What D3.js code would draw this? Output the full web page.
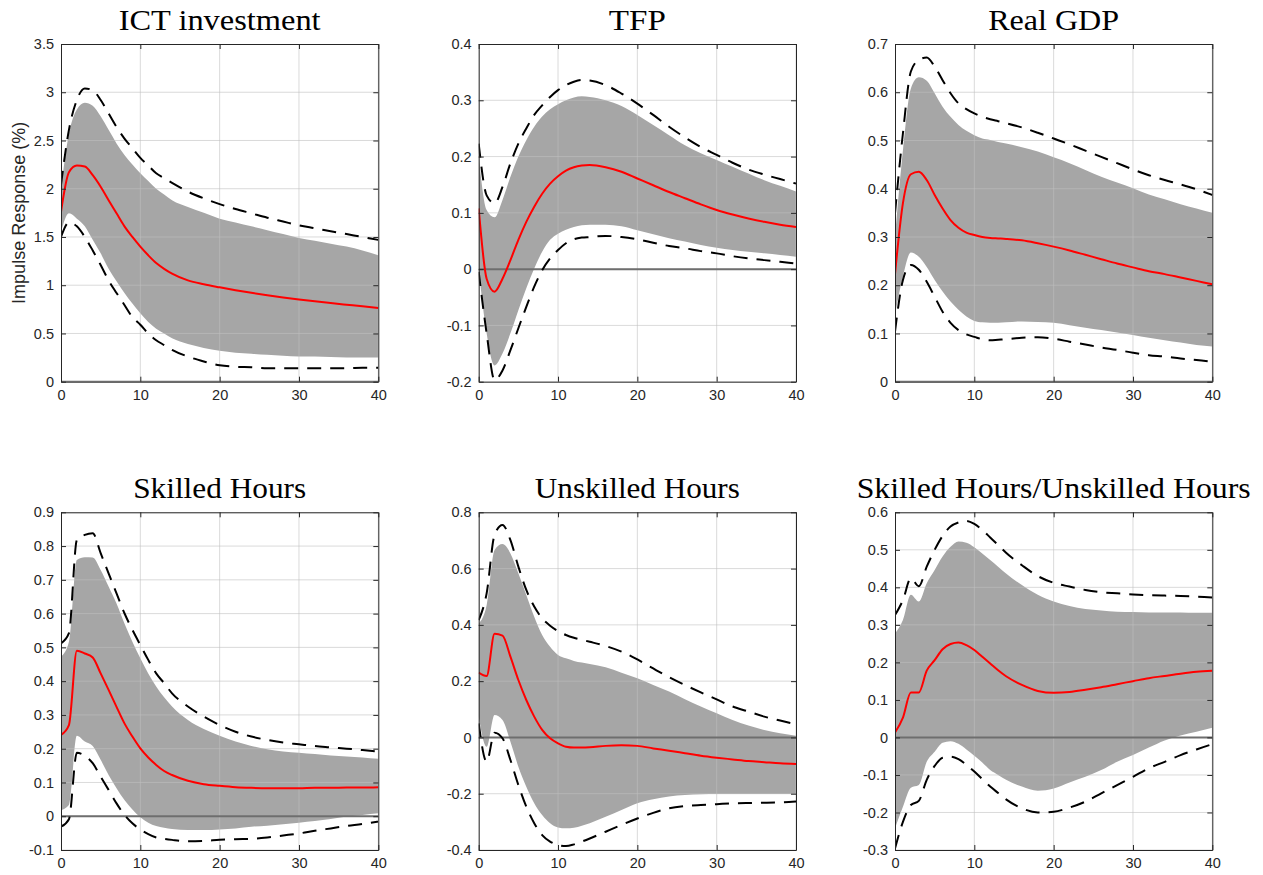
<!DOCTYPE html>
<html><head><meta charset="utf-8">
<script src="https://cdn.jsdelivr.net/npm/d3@7/dist/d3.min.js"></script>
<style>body{margin:0;background:#fff}</style>
</head><body><div id="chart"></div>
<script>
// ---------- DATA ----------
const horizons = [0,1,2,3,4,5,6,7,8,9,10,11,12,13,14,16,18,20,22,24,26,28,30,32,34,36,38,40];
const titles = ["ICT investment","TFP","Real GDP","Skilled Hours","Unskilled Hours","Skilled Hours/Unskilled Hours"];
const xTicks = [0,10,20,30,40];
const yDomains = [[0,3.5],[-0.2,0.4],[0,0.7],[-0.1,0.9],[-0.4,0.8],[-0.3,0.6]];
const yTickSteps = [0.5,0.1,0.1,0.1,0.2,0.1];

const ictMedian = [1.76,2.17,2.24,2.23,2.14,2.02,1.88,1.745,1.61,1.50,1.40,1.31,1.23,1.17,1.12,1.05,1.01,0.978,0.948,0.921,0.896,0.873,0.852,0.833,0.815,0.798,0.781,0.765];
const ictBandHi = [2.0,2.57,2.82,2.89,2.86,2.75,2.61,2.47,2.35,2.25,2.16,2.08,2.00,1.94,1.88,1.81,1.75,1.69,1.65,1.61,1.57,1.53,1.49,1.46,1.43,1.40,1.36,1.31];
const ictBandLo = [1.55,1.745,1.69,1.61,1.47,1.33,1.17,1.04,0.92,0.81,0.71,0.62,0.55,0.50,0.45,0.39,0.35,0.32,0.30,0.29,0.28,0.27,0.26,0.26,0.255,0.25,0.25,0.25];
const ictDashHi = [2.04,2.61,2.92,3.04,3.02,2.92,2.78,2.64,2.52,2.42,2.32,2.24,2.16,2.11,2.06,1.97,1.90,1.84,1.79,1.745,1.70,1.66,1.62,1.59,1.56,1.53,1.50,1.47];
const ictDashLo = [1.50,1.65,1.61,1.50,1.36,1.21,1.05,0.92,0.795,0.67,0.59,0.50,0.43,0.38,0.33,0.26,0.21,0.17,0.155,0.15,0.14,0.14,0.14,0.14,0.14,0.14,0.145,0.145];

const tfpMedian = [0.108,-0.017,-0.040,-0.017,0.016,0.052,0.084,0.111,0.134,0.152,0.165,0.175,0.181,0.184,0.185,0.181,0.173,0.161,0.149,0.137,0.126,0.115,0.105,0.097,0.090,0.084,0.079,0.075];
const tfpBandHi = [0.20,0.105,0.092,0.123,0.164,0.20,0.229,0.253,0.271,0.284,0.293,0.30,0.305,0.307,0.306,0.30,0.29,0.274,0.256,0.238,0.22,0.206,0.194,0.182,0.17,0.158,0.148,0.138];
const tfpBandLo = [0.0,-0.114,-0.171,-0.150,-0.114,-0.073,-0.034,0.001,0.031,0.052,0.063,0.070,0.075,0.078,0.079,0.079,0.076,0.069,0.062,0.055,0.049,0.043,0.038,0.034,0.031,0.028,0.025,0.022];
const tfpDashHi = [0.223,0.131,0.117,0.146,0.188,0.223,0.25,0.274,0.291,0.306,0.318,0.327,0.333,0.336,0.335,0.327,0.312,0.294,0.274,0.253,0.234,0.217,0.203,0.189,0.177,0.168,0.16,0.152];
const tfpDashLo = [-0.005,-0.114,-0.197,-0.18,-0.144,-0.105,-0.067,-0.031,-0.002,0.019,0.034,0.046,0.053,0.056,0.057,0.059,0.057,0.053,0.047,0.041,0.037,0.032,0.028,0.023,0.019,0.016,0.013,0.010];

const gdpMedian = [0.223,0.37,0.43,0.435,0.418,0.387,0.359,0.335,0.319,0.309,0.304,0.30,0.298,0.297,0.296,0.293,0.287,0.28,0.272,0.263,0.254,0.245,0.237,0.229,0.223,0.216,0.209,0.202];
const gdpBandHi = [0.30,0.48,0.608,0.631,0.624,0.598,0.57,0.549,0.532,0.52,0.511,0.504,0.501,0.497,0.494,0.486,0.477,0.465,0.453,0.439,0.425,0.413,0.401,0.388,0.378,0.368,0.359,0.35];
const gdpBandLo = [0.138,0.218,0.268,0.259,0.238,0.211,0.187,0.166,0.149,0.135,0.126,0.123,0.122,0.122,0.123,0.125,0.124,0.122,0.117,0.112,0.107,0.102,0.097,0.091,0.086,0.081,0.076,0.073];
const gdpDashHi = [0.349,0.515,0.643,0.667,0.672,0.653,0.625,0.598,0.577,0.565,0.556,0.549,0.544,0.540,0.536,0.527,0.516,0.504,0.492,0.479,0.466,0.453,0.44,0.428,0.418,0.409,0.399,0.387];
const gdpDashLo = [0.104,0.211,0.242,0.232,0.207,0.176,0.145,0.122,0.107,0.098,0.093,0.088,0.086,0.087,0.088,0.091,0.092,0.089,0.083,0.077,0.071,0.066,0.060,0.055,0.052,0.048,0.045,0.041];

const skMedian = [0.241,0.27,0.49,0.482,0.47,0.423,0.374,0.324,0.275,0.236,0.201,0.174,0.152,0.134,0.122,0.105,0.095,0.09,0.086,0.084,0.083,0.083,0.083,0.084,0.084,0.085,0.085,0.086];
const skBandHi = [0.473,0.517,0.759,0.767,0.766,0.729,0.68,0.63,0.571,0.517,0.468,0.423,0.384,0.352,0.325,0.285,0.258,0.238,0.221,0.208,0.198,0.192,0.188,0.184,0.18,0.177,0.174,0.17];
const skBandLo = [0.018,0.033,0.238,0.221,0.208,0.167,0.122,0.083,0.048,0.02,-0.003,-0.019,-0.029,-0.034,-0.038,-0.041,-0.041,-0.039,-0.036,-0.031,-0.028,-0.024,-0.019,-0.014,-0.008,-0.001,0.004,0.009];
const skDashHi = [0.512,0.542,0.818,0.833,0.838,0.779,0.719,0.66,0.601,0.552,0.507,0.463,0.423,0.394,0.364,0.325,0.295,0.27,0.25,0.236,0.226,0.218,0.213,0.208,0.204,0.2,0.196,0.191];
const skDashLo = [-0.031,-0.009,0.188,0.179,0.157,0.117,0.078,0.038,0.004,-0.021,-0.039,-0.053,-0.063,-0.067,-0.07,-0.074,-0.073,-0.07,-0.068,-0.067,-0.063,-0.057,-0.051,-0.043,-0.036,-0.029,-0.023,-0.016];

const unMedian = [0.23,0.218,0.368,0.362,0.287,0.204,0.133,0.074,0.027,-0.003,-0.021,-0.033,-0.036,-0.036,-0.035,-0.030,-0.028,-0.030,-0.039,-0.047,-0.056,-0.065,-0.072,-0.078,-0.084,-0.088,-0.092,-0.094];
const unBandHi = [0.405,0.47,0.666,0.687,0.654,0.583,0.506,0.429,0.364,0.322,0.293,0.281,0.272,0.266,0.261,0.249,0.23,0.21,0.186,0.163,0.136,0.11,0.086,0.062,0.042,0.026,0.015,0.006];
const unBandLo = [0.074,-0.033,0.08,0.062,-0.015,-0.104,-0.175,-0.234,-0.276,-0.305,-0.32,-0.323,-0.321,-0.314,-0.305,-0.282,-0.258,-0.234,-0.22,-0.21,-0.205,-0.202,-0.201,-0.201,-0.201,-0.201,-0.201,-0.201];
const unDashHi = [0.417,0.512,0.72,0.755,0.701,0.607,0.524,0.465,0.423,0.397,0.378,0.364,0.354,0.347,0.34,0.325,0.305,0.277,0.245,0.214,0.186,0.16,0.135,0.11,0.092,0.074,0.06,0.047];
const unDashLo = [0.05,-0.086,0.017,-0.003,-0.08,-0.169,-0.246,-0.305,-0.347,-0.37,-0.382,-0.386,-0.38,-0.37,-0.359,-0.335,-0.311,-0.288,-0.268,-0.252,-0.244,-0.24,-0.237,-0.234,-0.233,-0.232,-0.231,-0.228];

const ratioMedian = [0.013,0.053,0.12,0.12,0.178,0.206,0.235,0.249,0.253,0.246,0.233,0.215,0.197,0.179,0.163,0.14,0.124,0.119,0.121,0.127,0.134,0.142,0.150,0.158,0.164,0.170,0.175,0.178];
const ratioBandHi = [0.277,0.313,0.38,0.362,0.411,0.446,0.482,0.508,0.522,0.519,0.507,0.49,0.473,0.455,0.437,0.406,0.38,0.362,0.35,0.342,0.338,0.335,0.334,0.333,0.333,0.333,0.332,0.332];
const ratioBandLo = [-0.242,-0.185,-0.134,-0.127,-0.065,-0.038,-0.014,-0.01,-0.017,-0.032,-0.049,-0.067,-0.087,-0.1,-0.113,-0.131,-0.142,-0.136,-0.12,-0.105,-0.087,-0.065,-0.047,-0.027,-0.008,0.005,0.015,0.026];
const ratioDashHi = [0.326,0.366,0.424,0.403,0.455,0.5,0.537,0.562,0.573,0.577,0.569,0.553,0.533,0.513,0.492,0.459,0.43,0.412,0.402,0.393,0.387,0.384,0.381,0.379,0.378,0.377,0.375,0.373];
const ratioDashLo = [-0.296,-0.225,-0.18,-0.169,-0.113,-0.076,-0.054,-0.051,-0.058,-0.073,-0.091,-0.111,-0.131,-0.148,-0.165,-0.189,-0.2,-0.198,-0.187,-0.171,-0.149,-0.127,-0.105,-0.082,-0.065,-0.047,-0.032,-0.018];

const panels = [
  {median: ictMedian, bandHi: ictBandHi, bandLo: ictBandLo, dashHi: ictDashHi, dashLo: ictDashLo},
  {median: tfpMedian, bandHi: tfpBandHi, bandLo: tfpBandLo, dashHi: tfpDashHi, dashLo: tfpDashLo},
  {median: gdpMedian, bandHi: gdpBandHi, bandLo: gdpBandLo, dashHi: gdpDashHi, dashLo: gdpDashLo},
  {median: skMedian, bandHi: skBandHi, bandLo: skBandLo, dashHi: skDashHi, dashLo: skDashLo},
  {median: unMedian, bandHi: unBandHi, bandLo: unBandLo, dashHi: unDashHi, dashLo: unDashLo},
  {median: ratioMedian, bandHi: ratioBandHi, bandLo: ratioBandLo, dashHi: ratioDashHi, dashLo: ratioDashLo}
];

// ---------- LAYOUT ----------
const W = 1263, H = 875;
const colX = [61, 478.7, 895];
const rowY = [44, 512.3];
const pw = 317.3, ph = 337.7;
const titleWidths = [202, 57, 131, 173, 205, 394];

const svg = d3.select("#chart").append("svg").attr("width", W).attr("height", H);
const tickFont = "'Liberation Sans', Arial, Helvetica, sans-serif";
const axisColor = "#262626";
const fmt = d => String(+d.toFixed(2));

panels.forEach((p, i) => {
  const c = i % 3, r = Math.floor(i / 3);
  const x0 = colX[c], y0 = rowY[r];
  const g = svg.append("g").attr("transform", `translate(${x0},${y0})`);
  const x = d3.scaleLinear().domain([0, 40]).range([0, pw]);
  const y = d3.scaleLinear().domain(yDomains[i]).range([ph, 0]);
  const [lo, hi] = yDomains[i];
  const step = yTickSteps[i];
  const yTicks = d3.range(Math.round((hi - lo) / step) + 1).map(k => +(lo + k * step).toFixed(4));

  const clipId = "clip" + i;
  g.append("clipPath").attr("id", clipId).append("rect").attr("width", pw).attr("height", ph);
  const plot = g.append("g").attr("clip-path", `url(#${clipId})`);

  const rows = horizons.map((h, k) => ({h, m: p.median[k], bh: p.bandHi[k], bl: p.bandLo[k], dh: p.dashHi[k], dl: p.dashLo[k]}));
  const curve = d3.curveMonotoneX;

  plot.append("path").datum(rows)
    .attr("d", d3.area().x(d => x(d.h)).y0(d => y(d.bl)).y1(d => y(d.bh)).curve(curve))
    .attr("fill", "#a6a6a6");

  // grid
  const grid = plot.append("g").attr("stroke", "#c0c0c0").attr("stroke-opacity", 0.58).attr("stroke-width", 1);
  xTicks.forEach(t => grid.append("line").attr("x1", x(t)).attr("x2", x(t)).attr("y1", 0).attr("y2", ph));
  yTicks.forEach(t => grid.append("line").attr("x1", 0).attr("x2", pw).attr("y1", y(t)).attr("y2", y(t)));

  // zero line
  plot.append("line").attr("x1", 0).attr("x2", pw).attr("y1", y(0)).attr("y2", y(0))
    .attr("stroke", "#6e6e6e").attr("stroke-width", 2);

  const lineOf = key => d3.line().x(d => x(d.h)).y(d => y(d[key])).curve(curve);
  ["dh", "dl"].forEach(k => plot.append("path").datum(rows).attr("d", lineOf(k))
    .attr("fill", "none").attr("stroke", "#000").attr("stroke-width", 2).attr("stroke-dasharray", "14,9"));
  plot.append("path").datum(rows).attr("d", lineOf("m"))
    .attr("fill", "none").attr("stroke", "#ff0000").attr("stroke-width", 2);

  // axes (box with inward ticks)
  const tl = 5;
  const xB = g.append("g").attr("transform", `translate(0,${ph})`)
    .call(d3.axisBottom(x).tickValues(xTicks).tickSizeInner(-tl).tickSizeOuter(0).tickPadding(8).tickFormat(fmt));
  const xT = g.append("g").call(d3.axisTop(x).tickValues(xTicks).tickSizeInner(-tl).tickSizeOuter(0).tickFormat(""));
  const yL = g.append("g").call(d3.axisLeft(y).tickValues(yTicks).tickSizeInner(-tl).tickSizeOuter(0).tickPadding(7).tickFormat(fmt));
  const yR = g.append("g").attr("transform", `translate(${pw},0)`)
    .call(d3.axisRight(y).tickValues(yTicks).tickSizeInner(-tl).tickSizeOuter(0).tickFormat(""));
  [xB, xT, yL, yR].forEach(a => {
    a.selectAll("path").attr("stroke", axisColor).attr("stroke-width", 1);
    a.selectAll("line").attr("stroke", axisColor).attr("stroke-width", 1);
    a.selectAll("text").attr("fill", axisColor).style("font-family", tickFont).style("font-size", "14.5px");
  });

  // title
  g.append("text").attr("x", pw / 2).attr("y", -14)
    .attr("text-anchor", "middle")
    .style("font-family", "'Liberation Serif', 'Times New Roman', serif")
    .style("font-size", "30px").attr("fill", "#000")
    .attr("textLength", titleWidths[i]).attr("lengthAdjust", "spacingAndGlyphs")
    .text(titles[i]);

  if (i === 0) {
    g.append("text").attr("transform", `translate(${-36},${ph / 2}) rotate(-90)`)
      .attr("text-anchor", "middle").attr("fill", axisColor)
      .style("font-family", tickFont).style("font-size", "18px")
      .text("Impulse Response (%)");
  }
});
</script>
</body></html>
